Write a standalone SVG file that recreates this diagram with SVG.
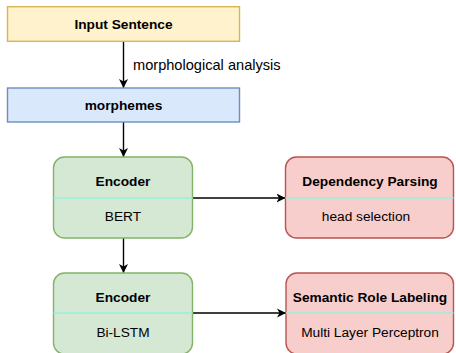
<svg xmlns="http://www.w3.org/2000/svg" width="456" height="353" viewBox="0 0 456 353">
<defs>
<style>
text{font-family:"Liberation Sans",Arial,Helvetica,sans-serif;font-size:13.7px;fill:#000;text-anchor:middle;dominant-baseline:central}
.b{font-weight:bold}
.lbl{font-size:14.6px;text-anchor:start}
.yel{fill:#fff2cc;stroke:#d6b656;stroke-width:1.4}
.blu{fill:#dae8fc;stroke:#6c8ebf;stroke-width:1.4}
.grn{fill:#d5e8d4;stroke:#82b366;stroke-width:1.4}
.red{fill:#f8cecc;stroke:#b85450;stroke-width:1.4}
.div{stroke:#99eee0;stroke-width:1.4;fill:none}
.edge{stroke:#000;stroke-width:1.4;fill:none;marker-end:url(#arr)}
</style>
<marker id="arr" markerWidth="10" markerHeight="10" refX="9" refY="5" orient="auto" markerUnits="userSpaceOnUse">
<path d="M0,0.5 L9,5 L0,9.5 L2.5,5 Z" fill="#000"/>
</marker>
</defs>
<g id="connectors">
<path class="edge" d="M123.5,41.3 L123.5,88"/>
<path class="edge" d="M123.5,122 L123.5,157"/>
<path class="edge" d="M192.5,198 L285.5,198"/>
<path class="edge" d="M123.5,238 L123.5,273"/>
<path class="edge" d="M192.5,313 L286,313"/>
<text class="lbl" x="133" y="65">morphological analysis</text>
</g>
<g id="input">
<rect class="yel" x="7.5" y="6.7" width="232" height="34.6"/>
<text class="b" x="123.5" y="24.5">Input Sentence</text>
</g>
<g id="morphemes">
<rect class="blu" x="7.5" y="88" width="232" height="34"/>
<text class="b" x="123.5" y="105">morphemes</text>
</g>
<g id="encoder1">
<rect class="grn" x="53.5" y="157" width="139" height="81" rx="11" ry="11"/>
<line class="div" x1="53.5" y1="198" x2="192.5" y2="198"/>
<text class="b" x="123" y="181.5">Encoder</text>
<text x="123" y="216">BERT</text>
</g>
<g id="dependency">
<rect class="red" x="285.5" y="157" width="168" height="81" rx="11" ry="11"/>
<line class="div" x1="285.5" y1="198" x2="453.5" y2="198"/>
<text class="b" x="370" y="181.5">Dependency Parsing</text>
<text x="366" y="216">head selection</text>
</g>
<g id="encoder2">
<rect class="grn" x="53.5" y="273" width="139" height="81" rx="11" ry="11"/>
<line class="div" x1="53.5" y1="313" x2="192.5" y2="313"/>
<text class="b" x="123" y="297">Encoder</text>
<text x="123" y="332">Bi-LSTM</text>
</g>
<g id="srl">
<rect class="red" x="286" y="273" width="167.5" height="81" rx="11" ry="11"/>
<line class="div" x1="286" y1="313" x2="453.5" y2="313"/>
<text class="b" x="370" y="297">Semantic Role Labeling</text>
<text x="370" y="332">Multi Layer Perceptron</text>
</g>
</svg>
